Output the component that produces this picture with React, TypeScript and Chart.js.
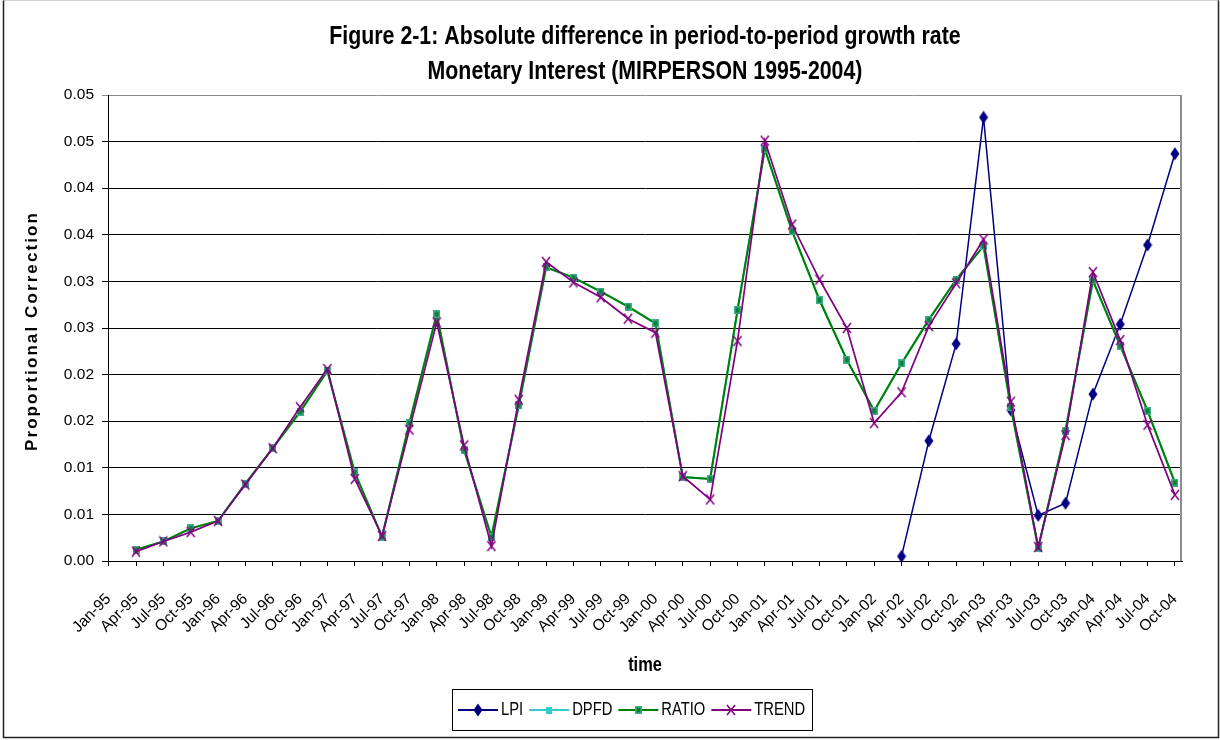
import React, { useEffect, useRef } from 'react';
import { Chart, registerables } from 'chart.js';

Chart.register(...registerables);

// ---------------- data ----------------
const CATEGORIES = [
  'Jan-95', 'Apr-95', 'Jul-95', 'Oct-95',
  'Jan-96', 'Apr-96', 'Jul-96', 'Oct-96',
  'Jan-97', 'Apr-97', 'Jul-97', 'Oct-97',
  'Jan-98', 'Apr-98', 'Jul-98', 'Oct-98',
  'Jan-99', 'Apr-99', 'Jul-99', 'Oct-99',
  'Jan-00', 'Apr-00', 'Jul-00', 'Oct-00',
  'Jan-01', 'Apr-01', 'Jul-01', 'Oct-01',
  'Jan-02', 'Apr-02', 'Jul-02', 'Oct-02',
  'Jan-03', 'Apr-03', 'Jul-03', 'Oct-03',
  'Jan-04', 'Apr-04', 'Jul-04', 'Oct-04',
];

const Y_TICK_VALUES = [0, 0.005, 0.01, 0.015, 0.02, 0.025, 0.03, 0.035, 0.04, 0.045, 0.05];
const Y_TICK_LABELS = ['0.00', '0.01', '0.01', '0.02', '0.02', '0.03', '0.03', '0.04', '0.04', '0.05', '0.05'];

const LPI = [
  null, null, null, null, null, null, null, null, null, null,
  null, null, null, null, null, null, null, null, null, null,
  null, null, null, null, null, null, null, null, null,
  0.0005, 0.0129, 0.0233, 0.0476, 0.0162, 0.0049, 0.0062, 0.0179, 0.0254, 0.0339, 0.0437,
];

const RATIO = [
  null, 0.0012, 0.0021, 0.0035, 0.0043, 0.0083, 0.0121, 0.0160, 0.0204, 0.0095,
  0.0026, 0.0148, 0.0265, 0.0119, 0.0026, 0.0167, 0.0315, 0.0304, 0.0289, 0.0273,
  0.0255, 0.0090, 0.0088, 0.0269, 0.0442, 0.0354, 0.0280, 0.0216, 0.0161, 0.0212,
  0.0259, 0.0302, 0.0338, 0.0165, 0.0014, 0.0140, 0.0301, 0.0231, 0.0161, 0.0084,
];

const DPFD = [
  null, 0.0012, 0.0021, 0.0035, 0.0043, 0.0083, 0.0121, 0.0160, 0.0204, 0.0095,
  0.0026, 0.0148, 0.0265, 0.0119, 0.0026, 0.0167, 0.0315, 0.0304, 0.0289, 0.0273,
  0.0255, 0.0090, 0.0088, 0.0269, 0.0442, 0.0354, 0.0280, 0.0216, 0.0161, 0.0212,
  0.0259, 0.0302, 0.0338, 0.0165, 0.0014, 0.0140, 0.0301, 0.0231, 0.0161, 0.0084,
];

const TREND = [
  null, 0.0010, 0.0021, 0.0031, 0.0043, 0.0082, 0.0121, 0.0165, 0.0206, 0.0088,
  0.0027, 0.0141, 0.0256, 0.0124, 0.0016, 0.0173, 0.0321, 0.0299, 0.0283, 0.0260,
  0.0245, 0.0091, 0.0066, 0.0236, 0.0451, 0.0361, 0.0302, 0.0250, 0.0148, 0.0181,
  0.0252, 0.0298, 0.0345, 0.0171, 0.0015, 0.0135, 0.0310, 0.0237, 0.0146, 0.0071,
];

const SERIES_NAMES = ['LPI', 'DPFD', 'RATIO', 'TREND'];
const TITLE_LINES = [
  'Figure 2-1: Absolute difference in period-to-period growth rate',
  'Monetary Interest (MIRPERSON 1995-2004)',
];
const Y_TITLE = 'Proportional Correction';
const X_TITLE = 'time';

// ---------------- styling helpers ----------------
const NARROW_FAMILY = '"Liberation Sans Narrow", "Arial Narrow"';
const REGULAR_FAMILY = '"Liberation Sans", Arial, Helvetica, sans-serif';
const SQUEEZE = 0.82;

function detectNarrow(): boolean {
  const ctx = document.createElement('canvas').getContext('2d');
  if (!ctx) return false;
  ctx.font = '40px "Liberation Sans Narrow", monospace';
  const a = ctx.measureText('Proportional 0123').width;
  ctx.font = '40px monospace';
  const b = ctx.measureText('Proportional 0123').width;
  return Math.abs(a - b) > 1;
}

function makeMarker(w: number, h: number, draw: (g: CanvasRenderingContext2D, w: number, h: number) => void) {
  const c = document.createElement('canvas');
  c.width = w;
  c.height = h;
  const g = c.getContext('2d') as CanvasRenderingContext2D;
  draw(g, w, h);
  return c;
}

function buildMarkers() {
  const lpi = makeMarker(10, 14, (g, w, h) => {
    g.fillStyle = '#000080';
    g.beginPath();
    g.moveTo(w / 2, 0.5);
    g.lineTo(w - 0.5, h / 2);
    g.lineTo(w / 2, h - 0.5);
    g.lineTo(0.5, h / 2);
    g.closePath();
    g.fill();
  });
  const dpfd = makeMarker(6, 7, (g, w, h) => {
    g.fillStyle = '#33cccc';
    g.fillRect(0, 0, w, h);
  });
  const ratio = makeMarker(7, 8, (g, w, h) => {
    g.fillStyle = '#3cae8c';
    g.fillRect(0, 0, w, h);
    g.fillStyle = '#0d7f35';
    g.fillRect(1.5, 1.5, w - 3, h - 3);
  });
  const trend = makeMarker(10, 12, (g, w, h) => {
    g.strokeStyle = '#800080';
    g.lineWidth = 1.5;
    g.beginPath();
    g.moveTo(1, 1);
    g.lineTo(w - 1, h - 1);
    g.moveTo(w - 1, 1);
    g.lineTo(1, h - 1);
    g.stroke();
  });
  return [lpi, dpfd, ratio, trend];
}

const SERIES_COLORS = ['#000080', '#33cccc', '#008000', '#800080'];
const SERIES_WIDTHS = [1.5, 2, 2, 1.7];

function textN(
  ctx: CanvasRenderingContext2D, s: string, x: number, y: number, px: number,
  bold: boolean, align: CanvasTextAlign, narrowOK: boolean,
) {
  ctx.save();
  ctx.fillStyle = '#000';
  ctx.textBaseline = 'middle';
  ctx.textAlign = align;
  const weight = bold ? 'bold ' : '';
  if (narrowOK) {
    ctx.font = `${weight}${px}px ${NARROW_FAMILY}, ${REGULAR_FAMILY}`;
    ctx.fillText(s, x, y);
  } else {
    ctx.translate(x, y);
    ctx.scale(SQUEEZE, 1);
    ctx.font = `${weight}${px}px ${REGULAR_FAMILY}`;
    ctx.fillText(s, 0, 0);
  }
  ctx.restore();
}

function widthN(ctx: CanvasRenderingContext2D, s: string, px: number, bold: boolean, narrowOK: boolean) {
  ctx.save();
  const weight = bold ? 'bold ' : '';
  let w: number;
  if (narrowOK) {
    ctx.font = `${weight}${px}px ${NARROW_FAMILY}, ${REGULAR_FAMILY}`;
    w = ctx.measureText(s).width;
  } else {
    ctx.font = `${weight}${px}px ${REGULAR_FAMILY}`;
    w = ctx.measureText(s).width * SQUEEZE;
  }
  ctx.restore();
  return w;
}

export default function App() {
  const ref = useRef<HTMLCanvasElement>(null);

  useEffect(() => {
    const canvas = ref.current;
    if (!canvas) return;
    const narrowOK = detectNarrow();
    const markers = buildMarkers();
    const tickFont = narrowOK
      ? { family: `${NARROW_FAMILY}, ${REGULAR_FAMILY}`, size: 18.5 }
      : { family: REGULAR_FAMILY, size: 15.5 };

    const pts = (arr: (number | null)[]) => arr.map((v, i) => ({ x: i, y: v }));
    const seriesData = [LPI, DPFD, RATIO, TREND];

    const decor = {
      id: 'decor',
      beforeDraw(chart: any) {
        const ctx = chart.ctx;
        ctx.save();
        ctx.fillStyle = '#ffffff';
        ctx.fillRect(0, 0, chart.width, chart.height);
        ctx.restore();
      },
      beforeDatasetsDraw(chart: any) {
        const { ctx, chartArea: a } = chart;
        ctx.save();
        ctx.strokeStyle = '#8c8c8c';
        ctx.lineWidth = 2;
        ctx.beginPath();
        ctx.moveTo(a.right - 1, a.top);
        ctx.lineTo(a.right - 1, a.bottom);
        ctx.stroke();
        ctx.restore();
      },
      afterDraw(chart: any) {
        const { ctx, chartArea: a } = chart;
        const W = chart.width;
        const H = chart.height;
        ctx.save();
        // outer frame
        ctx.strokeStyle = '#d0d0d0';
        ctx.lineWidth = 1;
        ctx.beginPath();
        ctx.moveTo(3, 0.5);
        ctx.lineTo(W - 1, 0.5);
        ctx.stroke();
        ctx.strokeStyle = '#222';
        ctx.lineWidth = 1.5;
        ctx.beginPath();
        ctx.moveTo(3.5, 0.5);
        ctx.lineTo(3.5, H - 2.5);
        ctx.lineTo(W - 1.5, H - 2.5);
        ctx.lineTo(W - 1.5, 0.5);
        ctx.stroke();
        ctx.restore();

        const cx = (a.left + a.right) / 2;
        // title
        textN(ctx, TITLE_LINES[0], cx, 37, 26, true, 'center', narrowOK);
        textN(ctx, TITLE_LINES[1], cx, 72, 26, true, 'center', narrowOK);

        // y axis title
        ctx.save();
        ctx.translate(32, (a.top + a.bottom) / 2 + 3);
        ctx.rotate(-Math.PI / 2);
        ctx.fillStyle = '#000';
        ctx.font = `bold 17px ${REGULAR_FAMILY}`;
        (ctx as any).letterSpacing = '2.1px';
        ctx.textAlign = 'center';
        ctx.textBaseline = 'middle';
        ctx.fillText(Y_TITLE, 0, 0);
        ctx.restore();

        // x axis title
        textN(ctx, X_TITLE, cx, 665, 20, true, 'center', narrowOK);

        // legend
        const box = { x: 452, y: 689, w: 360, h: 41 };
        ctx.save();
        ctx.strokeStyle = '#000';
        ctx.lineWidth = 1;
        ctx.strokeRect(box.x + 0.5, box.y + 0.5, box.w, box.h);
        ctx.restore();
        const cy = box.y + box.h / 2 + 0.5;
        const fontPx = 18;
        let x = box.x + 6;
        SERIES_NAMES.forEach((name, i) => {
          ctx.save();
          ctx.strokeStyle = SERIES_COLORS[i];
          ctx.lineWidth = 2;
          ctx.beginPath();
          ctx.moveTo(x, cy);
          ctx.lineTo(x + 40, cy);
          ctx.stroke();
          const m = markers[i];
          ctx.drawImage(m, Math.round(x + 20 - m.width / 2), Math.round(cy - m.height / 2));
          ctx.restore();
          textN(ctx, name, x + 43, cy, fontPx, false, 'left', narrowOK);
          x += 43 + widthN(ctx, name, fontPx, false, narrowOK) + 6;
        });
      },
    };

    const chart = new Chart(canvas, {
      type: 'line',
      data: {
        datasets: seriesData.map((arr, i) => ({
          label: SERIES_NAMES[i],
          data: pts(arr),
          borderColor: SERIES_COLORS[i],
          backgroundColor: SERIES_COLORS[i],
          borderWidth: SERIES_WIDTHS[i],
          pointStyle: markers[i],
          pointRadius: 4,
          pointHoverRadius: 4,
          tension: 0,
          fill: false,
          spanGaps: false,
          order: 3 - i,
          clip: 8,
        })),
      },
      options: {
        responsive: false,
        animation: false,
        events: [],
        layout: { padding: { left: 0, right: 38, top: 95, bottom: 0 } },
        plugins: {
          legend: { display: false },
          title: { display: false },
          tooltip: { enabled: false },
        },
        scales: {
          x: {
            type: 'linear',
            min: -0.025,
            max: 39.26,
            afterBuildTicks: (s: any) => {
              s.ticks = CATEGORIES.map((_, i) => ({ value: i }));
            },
            afterFit: (s: any) => {
              s.height = 179;
            },
            ticks: {
              autoSkip: false,
              maxRotation: 45,
              minRotation: 45,
              padding: 24,
              color: '#000',
              font: tickFont,
              callback: (v: any) => CATEGORIES[Math.round(v)] ?? '',
            },
            grid: {
              display: true,
              drawOnChartArea: false,
              drawTicks: true,
              tickLength: 5,
              color: '#000',
              lineWidth: 1,
            },
            border: { display: true, color: '#000', width: 1 },
          },
          y: {
            type: 'linear',
            min: 0,
            max: 0.05,
            afterBuildTicks: (s: any) => {
              s.ticks = Y_TICK_VALUES.map((v) => ({ value: v }));
            },
            afterFit: (s: any) => {
              s.width = 108;
            },
            ticks: {
              padding: 8,
              color: '#000',
              font: tickFont,
              callback: (_v: any, idx: number) => Y_TICK_LABELS[idx],
            },
            grid: {
              drawTicks: true,
              tickLength: 6,
              lineWidth: 1,
              color: (c: any) => (c.tick && c.tick.value > 0.0499 ? '#8c8c8c' : '#000'),
            },
            border: { display: true, color: '#000', width: 1 },
          },
        },
      } as any,
      plugins: [decor],
    });

    return () => chart.destroy();
  }, []);

  return (
    <div style={{ position: 'absolute', left: 0, top: 0, width: 1220, height: 740, background: '#fff' }}>
      <canvas ref={ref} width={1220} height={740} style={{ display: 'block', width: 1220, height: 740 }} />
    </div>
  );
}
